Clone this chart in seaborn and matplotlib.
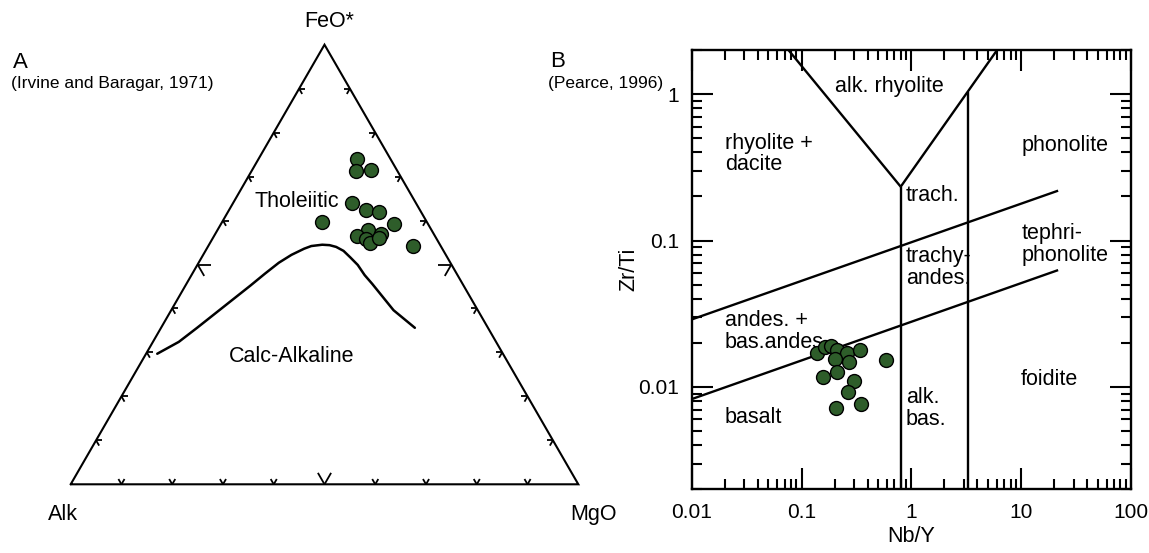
import numpy as np
import pandas as pd
import matplotlib
matplotlib.use("Agg")
import matplotlib.pyplot as plt
import seaborn as sns

# ---- Panel A: AFM diagram (Irvine and Baragar, 1971), wt% ----
afm_feo = [74.0, 71.3, 71.6, 64.0, 62.5, 62.0, 59.6, 59.2, 57.9, 56.4, 55.8, 54.9, 57.0, 56.0, 54.1]
afm_mgo = [19.5, 20.5, 23.4, 23.5, 26.9, 29.7, 19.7, 34.1, 29.7, 28.3, 30.3, 31.5, 32.6, 32.7, 40.3]

# tholeiitic / calc-alkaline boundary
curve_feo = [29.7, 32.4, 35.6, 38.8, 42.0, 45.2, 47.9, 50.4, 52.2, 53.6, 54.2, 54.5,
             54.4, 54.0, 53.1, 51.6, 49.9, 47.6, 45.6, 43.6, 41.6, 39.6, 37.6, 35.6]
curve_mgo = [2.2, 5.1, 7.1, 9.0, 10.9, 12.8, 14.3, 15.8, 17.4, 19.2, 20.3, 22.3,
             23.8, 25.3, 27.2, 29.3, 31.6, 34.1, 36.6, 39.0, 41.4, 43.8, 46.9, 50.0]

# ---- Panel B: Nb/Y vs Zr/Ti (Pearce, 1996) ----
nb_y = [0.139, 0.164, 0.185, 0.209, 0.262, 0.341, 0.202, 0.269, 0.158, 0.210, 0.298, 0.266, 0.208, 0.348, 0.586]
zr_ti = [0.0171, 0.0188, 0.0191, 0.0179, 0.0170, 0.0180, 0.0156, 0.0148, 0.0117, 0.0126, 0.0109, 0.0092, 0.00718, 0.00764, 0.0152]

field_lines = {
    "v_left": ([0.076, 0.80], [2.0, 0.233]),
    "v_right": ([0.80, 6.04], [0.233, 2.0]),
    "trach_bas": ([0.80, 0.80], [0.233, 0.002]),
    "phon_foid": ([3.28, 3.28], [1.03, 0.002]),
    "upper": ([0.01, 21.7], [0.0289, 0.219]),
    "lower": ([0.01, 21.7], [0.00826, 0.0628]),
}

field_names = ["alk. rhyolite", "rhyolite +\ndacite", "phonolite", "trach.",
               "trachy-\nandes.", "tephri-\nphonolite", "andes. +\nbas.andes.",
               "foidite", "basalt", "alk.\nbas."]
field_x = [0.63, 0.0201, 10.0, 0.893, 0.893, 10.0, 0.0201, 10.0, 0.0201, 0.893]
field_y = [1.12, 0.39, 0.449, 0.203, 0.0657, 0.094, 0.024, 0.01127, 0.0062, 0.00711]
field_ha = ["center"] + ["left"] * 9

GREEN = "#2e5d2a"
FS = 15.5

sns.set_theme(style="white")
plt.rcParams["font.family"] = ["Liberation Sans", "DejaVu Sans"]
plt.rcParams["text.color"] = "black"
plt.rcParams["axes.labelcolor"] = "black"

W, H = 1149, 553
fig = plt.figure(figsize=(W / 100, H / 100), dpi=100)

# ----- ternary panel -----
S = 507.6          # pixels per side
X0, Y0 = 70.7, 484.3
axA = fig.add_axes([0, 0, 620 / W, 1])
axA.set_xlim(-X0 / S, (620 - X0) / S)
axA.set_ylim((Y0 - H) / S, Y0 / S)
axA.axis("off")

h3 = np.sqrt(3) / 2


def tern(fe, mg):
    fe = np.asarray(fe) / 100.0
    mg = np.asarray(mg) / 100.0
    return mg + 0.5 * fe, fe * h3


axA.plot([0, 1, 0.5, 0], [0, 0, h3, 0], color="black", lw=1.5, solid_joinstyle="miter")

for t in np.arange(1, 10) / 10:
    ln = 0.026 if abs(t - 0.5) < 1e-9 else 0.012
    edges = [
        ((t, 0.0), (60, 120)),
        ((0.5 * t, h3 * t), (0, -60)),
        ((1 - 0.5 * t, h3 * t), (180, 240)),
    ]
    for (px, py), angs in edges:
        for a in angs:
            r = np.deg2rad(a)
            axA.plot([px, px + ln * np.cos(r)], [py, py + ln * np.sin(r)],
                     color="black", lw=1.3, solid_capstyle="butt")

cx, cy = tern(curve_feo, curve_mgo)
curve = pd.DataFrame({"x": cx, "y": cy})
sns.lineplot(data=curve, x="x", y="y", sort=False, estimator=None,
             color="black", lw=1.8, ax=axA)

px_, py_ = tern(afm_feo, afm_mgo)
afm = pd.DataFrame({"x": px_, "y": py_})
sns.scatterplot(data=afm, x="x", y="y", color=GREEN, edgecolor="black",
                linewidth=1.0, s=100, ax=axA, zorder=5)
axA.axis("off")

axA.text(0.509, 0.911, "FeO*", ha="center", va="center", fontsize=FS)
axA.text(-0.0146, -0.059, "Alk", ha="center", va="center", fontsize=FS)
axA.text(1.0296, -0.059, "MgO", ha="center", va="center", fontsize=FS)
axA.text(0.446, 0.558, "Tholeiitic", ha="center", va="center", fontsize=FS)
axA.text(0.435, 0.251, "Calc-Alkaline", ha="center", va="center", fontsize=FS)

fig.text(12.5 / W, 1 - 62.8 / H, "A", ha="left", va="center", fontsize=16)
fig.text(10.7 / W, 1 - 83.6 / H, "(Irvine and Baragar, 1971)", ha="left",
         va="center", fontsize=12.5)

# ----- Nb/Y vs Zr/Ti panel -----
axB = fig.add_axes([691.7 / W, (H - 489.3) / H, (1131 - 691.7) / W, (489.3 - 50) / H])
axB.set_xscale("log")
axB.set_yscale("log")
axB.set_xlim(0.01, 100)
axB.set_ylim(0.002, 2)

for xs, ys in field_lines.values():
    axB.plot(xs, ys, color="black", lw=1.7, solid_capstyle="butt")

pts = pd.DataFrame({"Nb/Y": nb_y, "Zr/Ti": zr_ti})
sns.scatterplot(data=pts, x="Nb/Y", y="Zr/Ti", color=GREEN, edgecolor="black",
                linewidth=1.0, s=100, ax=axB, zorder=5)

for name, x, y, ha in zip(field_names, field_x, field_y, field_ha):
    axB.text(x, y, name, ha=ha, va="center", fontsize=FS, linespacing=1.05)

axB.set_xticks([0.01, 0.1, 1, 10, 100])
axB.set_xticklabels(["0.01", "0.1", "1", "10", "100"])
axB.set_yticks([0.01, 0.1, 1])
axB.set_yticklabels(["0.01", "0.1", "1"])
axB.tick_params(which="both", direction="in", top=True, right=True,
                bottom=True, left=True, labelsize=15, width=1.5,
                colors="black")
axB.tick_params(which="major", length=15, pad=10)
axB.tick_params(axis="y", which="major", pad=9)
axB.tick_params(which="minor", length=7)
for sp in axB.spines.values():
    sp.set_linewidth(1.7)
    sp.set_color("black")
axB.set_xlabel("Nb/Y", fontsize=FS, labelpad=3)
axB.set_ylabel("Zr/Ti", fontsize=FS, labelpad=-1)

fig.text(549.7 / W, 1 - 61.6 / H, "B", ha="left", va="center", fontsize=16)
fig.text(548.5 / W, 1 - 83.5 / H, "(Pearce, 1996)", ha="left", va="center",
         fontsize=12.5)

fig.savefig("out.png", dpi=100, facecolor="white")
